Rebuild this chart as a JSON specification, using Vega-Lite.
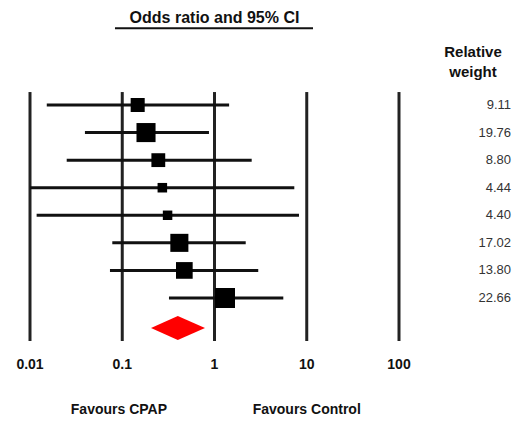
{
  "$schema": "https://vega.github.io/schema/vega-lite/v6.json",
  "width": 514,
  "height": 421,
  "autosize": {"type": "fit", "contains": "padding"},
  "padding": 0,
  "background": "white",
  "config": {"view": {"stroke": null}, "text": {"font": "Liberation Sans"}},
  "datasets": {
    "studies": [
      {"row": 1, "or": 0.147, "lo": 0.0152, "hi": 1.44, "w": 9.11},
      {"row": 2, "or": 0.181, "lo": 0.0394, "hi": 0.871, "w": 19.76},
      {"row": 3, "or": 0.246, "lo": 0.025, "hi": 2.53, "w": 8.80},
      {"row": 4, "or": 0.272, "lo": 0.01, "hi": 7.33, "w": 4.44},
      {"row": 5, "or": 0.31, "lo": 0.0118, "hi": 8.24, "w": 4.40},
      {"row": 6, "or": 0.416, "lo": 0.078, "hi": 2.18, "w": 17.02},
      {"row": 7, "or": 0.471, "lo": 0.0736, "hi": 2.98, "w": 13.80},
      {"row": 8, "or": 1.30, "lo": 0.321, "hi": 5.57, "w": 22.66}
    ],
    "grid": [
      {"v": 0.01, "label": "0.01"},
      {"v": 0.1, "label": "0.1"},
      {"v": 1, "label": "1"},
      {"v": 10, "label": "10"},
      {"v": 100, "label": "100"}
    ],
    "diamond": [
      {"x": 0.205, "y": 9.088, "y2": 9.088},
      {"x": 0.40, "y": 8.653, "y2": 9.523},
      {"x": 0.789, "y": 9.088, "y2": 9.088}
    ],
    "one": [{}]
  },
  "layer": [
    {
      "data": {"name": "grid"},
      "mark": {"type": "rule", "strokeWidth": 3, "color": "#222222"},
      "encoding": {
        "x": {"field": "v", "type": "quantitative", "scale": {"type": "log", "domain": [0.01, 100], "range": [30, 399], "nice": false}, "axis": null},
        "y": {"datum": 0.53, "type": "quantitative", "scale": {"type": "linear", "domain": [1, 8], "range": [105, 298], "nice": false, "zero": false}, "axis": null},
        "y2": {"datum": 9.56}
      }
    },
    {
      "data": {"name": "grid"},
      "mark": {"type": "text", "fontSize": 14, "fontWeight": "bold", "color": "#111111", "baseline": "middle", "align": "center"},
      "encoding": {
        "x": {"field": "v", "type": "quantitative"},
        "y": {"datum": 10.43, "type": "quantitative"},
        "text": {"field": "label"}
      }
    },
    {
      "data": {"name": "studies"},
      "mark": {"type": "rule", "strokeWidth": 3, "color": "#111111"},
      "encoding": {
        "x": {"field": "lo", "type": "quantitative"},
        "x2": {"field": "hi"},
        "y": {"field": "row", "type": "quantitative"}
      }
    },
    {
      "data": {"name": "studies"},
      "mark": {"type": "square", "color": "#000000", "opacity": 1, "filled": true},
      "encoding": {
        "x": {"field": "or", "type": "quantitative"},
        "y": {"field": "row", "type": "quantitative"},
        "size": {"field": "w", "type": "quantitative", "scale": {"type": "sqrt", "domain": [4.4, 22.66], "range": [90, 400], "zero": false}, "legend": null}
      }
    },
    {
      "data": {"name": "studies"},
      "mark": {"type": "text", "fontSize": 13, "color": "#333333", "baseline": "middle", "align": "right"},
      "encoding": {
        "x": {"datum": 1637, "type": "quantitative"},
        "y": {"field": "row", "type": "quantitative"},
        "text": {"field": "w", "type": "quantitative", "format": ".2f"}
      }
    },
    {
      "data": {"name": "diamond"},
      "mark": {"type": "area", "color": "#ff0000", "orient": "vertical", "opacity": 1},
      "encoding": {
        "x": {"field": "x", "type": "quantitative"},
        "y": {"field": "y", "type": "quantitative"},
        "y2": {"field": "y2"}
      }
    },
    {
      "data": {"name": "one"},
      "mark": {"type": "text", "fontSize": 16, "fontWeight": "bold", "color": "#111111", "baseline": "middle", "align": "center"},
      "encoding": {
        "x": {"datum": 1, "type": "quantitative"},
        "y": {"datum": -2.145, "type": "quantitative"},
        "text": {"value": "Odds ratio and 95% CI"}
      }
    },
    {
      "data": {"name": "one"},
      "mark": {"type": "rule", "strokeWidth": 2, "color": "#111111"},
      "encoding": {
        "x": {"datum": 0.0834, "type": "quantitative"},
        "x2": {"datum": 11.69},
        "y": {"datum": -1.782, "type": "quantitative"}
      }
    },
    {
      "data": {"name": "one"},
      "mark": {"type": "text", "fontSize": 15, "fontWeight": "bold", "color": "#111111", "baseline": "middle", "align": "center"},
      "encoding": {
        "x": {"datum": 634, "type": "quantitative"},
        "y": {"datum": -0.933, "type": "quantitative"},
        "text": {"value": "Relative"}
      }
    },
    {
      "data": {"name": "one"},
      "mark": {"type": "text", "fontSize": 15, "fontWeight": "bold", "color": "#111111", "baseline": "middle", "align": "center"},
      "encoding": {
        "x": {"datum": 634, "type": "quantitative"},
        "y": {"datum": -0.208, "type": "quantitative"},
        "text": {"value": "weight"}
      }
    },
    {
      "data": {"name": "one"},
      "mark": {"type": "text", "fontSize": 14, "fontWeight": "bold", "color": "#111111", "baseline": "middle", "align": "center"},
      "encoding": {
        "x": {"datum": 0.092, "type": "quantitative"},
        "y": {"datum": 12.06, "type": "quantitative"},
        "text": {"value": "Favours CPAP"}
      }
    },
    {
      "data": {"name": "one"},
      "mark": {"type": "text", "fontSize": 14, "fontWeight": "bold", "color": "#111111", "baseline": "middle", "align": "center"},
      "encoding": {
        "x": {"datum": 10, "type": "quantitative"},
        "y": {"datum": 12.06, "type": "quantitative"},
        "text": {"value": "Favours Control"}
      }
    }
  ]
}
